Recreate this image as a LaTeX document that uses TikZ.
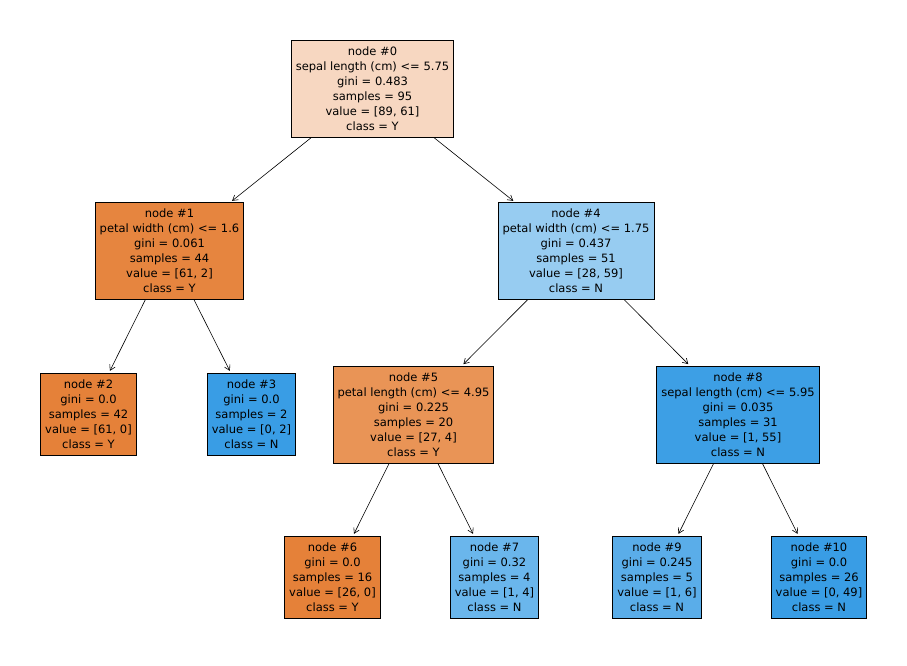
\documentclass[tikz,border=0pt]{standalone}
\usepackage{fontspec}
\setmainfont{DejaVu Sans}
\usetikzlibrary{arrows.meta}
\definecolor{c0}{RGB}{247,215,193}
\definecolor{c1}{RGB}{230,133,63}
\definecolor{cY}{RGB}{229,129,57}
\definecolor{cN}{RGB}{57,157,229}
\definecolor{c4}{RGB}{151,204,241}
\definecolor{c5}{RGB}{233,148,86}
\definecolor{c7}{RGB}{106,182,236}
\definecolor{c8}{RGB}{61,159,229}
\definecolor{c9}{RGB}{90,173,233}
\begin{document}
\begin{tikzpicture}[x=1pt,y=-1pt,
  tnode/.style={draw=black, line width=0.8pt, align=center, inner xsep=4.5pt, inner ysep=0pt,
    font=\fontsize{11.5}{15}\selectfont},
  big/.style={tnode, minimum height=97pt},
  small/.style={tnode, minimum height=82pt},
  edge/.style={-{Straight Barb[length=5pt,width=6pt]}, shorten >=2pt, line width=0.6pt}]
\useasboundingbox[fill=white] (0,0) rectangle (907,666);
\node[big, fill=c0] (n0) at (372.5,88.5) {node \#0\\sepal length (cm) <= 5.75\\gini = 0.483\\samples = 95\\value = [89, 61]\\class = Y};
\node[big, fill=c1] (n1) at (169.5,251) {node \#1\\petal width (cm) <= 1.6\\gini = 0.061\\samples = 44\\value = [61, 2]\\class = Y};
\node[big, fill=c4] (n4) at (576,251) {node \#4\\petal width (cm) <= 1.75\\gini = 0.437\\samples = 51\\value = [28, 59]\\class = N};
\node[small, fill=cY] (n2) at (88.5,414) {node \#2\\gini = 0.0\\samples = 42\\value = [61, 0]\\class = Y};
\node[small, fill=cN] (n3) at (251.5,414) {node \#3\\gini = 0.0\\samples = 2\\value = [0, 2]\\class = N};
\node[big, fill=c5] (n5) at (413.5,414.5) {node \#5\\petal length (cm) <= 4.95\\gini = 0.225\\samples = 20\\value = [27, 4]\\class = Y};
\node[big, fill=c8] (n8) at (738,414.5) {node \#8\\sepal length (cm) <= 5.95\\gini = 0.035\\samples = 31\\value = [1, 55]\\class = N};
\node[small, fill=cY] (n6) at (332.5,577) {node \#6\\gini = 0.0\\samples = 16\\value = [26, 0]\\class = Y};
\node[small, fill=c7] (n7) at (494.5,577) {node \#7\\gini = 0.32\\samples = 4\\value = [1, 4]\\class = N};
\node[small, fill=c9] (n9) at (657,577) {node \#9\\gini = 0.245\\samples = 5\\value = [1, 6]\\class = N};
\node[small, fill=cN] (n10) at (819,577) {node \#10\\gini = 0.0\\samples = 26\\value = [0, 49]\\class = N};
\draw[edge] (n0) -- (n1);
\draw[edge] (n0) -- (n4);
\draw[edge] (n1) -- (n2);
\draw[edge] (n1) -- (n3);
\draw[edge] (n4) -- (n5);
\draw[edge] (n4) -- (n8);
\draw[edge] (n5) -- (n6);
\draw[edge] (n5) -- (n7);
\draw[edge] (n8) -- (n9);
\draw[edge] (n8) -- (n10);
\end{tikzpicture}
\end{document}
